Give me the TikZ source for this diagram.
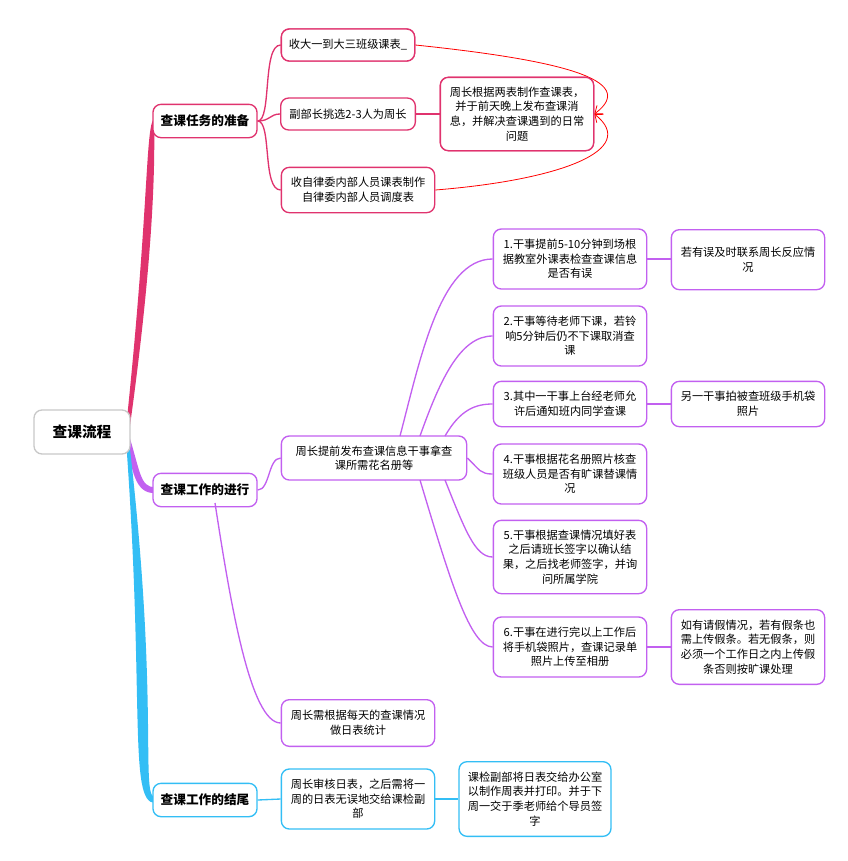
\documentclass[tikz,border=0pt]{standalone}
\usepackage{fontspec}
\setmainfont{Noto Sans CJK SC}
\usetikzlibrary{arrows.meta}
\definecolor{pk}{HTML}{E0336E}
\definecolor{pu}{HTML}{C260F0}
\definecolor{bl}{HTML}{33BEF5}
\definecolor{rt}{HTML}{C8C8C8}
\tikzset{
 box/.style={draw,rounded corners=6pt,line width=1pt,fill=white,align=center,font=\fontsize{8.4}{11}\selectfont,inner sep=2pt},
 main/.style={box,font=\fontsize{9.5}{12}\selectfont\bfseries},
 con/.style={line width=1pt},
 rel/.style={draw=red,line width=0.6pt,-{Straight Barb[length=5pt,width=8pt]}}
}
\begin{document}
\begin{tikzpicture}[x=0.75pt,y=-0.75pt]
\useasboundingbox (0,0) rectangle (848,861);
% connectors root
\fill[pk] (126,428) .. controls (150,200) and (145,121) .. (155,118) -- (155,124) .. controls (152,124) and (162,200) .. (128,440) -- cycle;
\fill[pu] (128,432) .. controls (140,470) and (140,488) .. (155,487) -- (155,493) .. controls (135,494) and (132,470) .. (126,440) -- cycle;
\fill[bl] (128,432) .. controls (160,700) and (140,797) .. (155,797) -- (155,803) .. controls (128,803) and (145,700) .. (126,440) -- cycle;
% nodes
\node[box,draw=rt,line width=1pt,font=\fontsize{11}{13}\selectfont\bfseries,minimum width=72pt,minimum height=33pt] (root) at (82,432) {查课流程};
\node[main,draw=pk,minimum width=78pt,minimum height=25pt] (A) at (205,121) {查课任务的准备};
\node[main,draw=pu,minimum width=78pt,minimum height=25pt] (B) at (205,490) {查课工作的进行};
\node[main,draw=bl,minimum width=78pt,minimum height=25pt] (C) at (205,800) {查课工作的结尾};

\node[box,draw=pk,minimum width=100pt,minimum height=24pt] (A1) at (348,45) {收大一到大三班级课表\_};
\node[box,draw=pk,minimum width=101pt,minimum height=24pt] (A2) at (348,114) {副部长挑选2-3人为周长};
\node[box,draw=pk,minimum width=115pt,minimum height=34pt] (A3) at (358,190) {收自律委内部人员课表制作\\自律委内部人员调度表};
\node[box,draw=pk,minimum width=115pt,minimum height=55pt] (A4) at (517,114) {周长根据两表制作查课表，\\并于前天晚上发布查课消\\息，并解决查课遇到的日常\\问题};

\node[box,draw=pu,minimum width=139pt,minimum height=33pt] (B1) at (374,458) {周长提前发布查课信息干事拿查\\课所需花名册等};
\node[box,draw=pu,minimum width=115pt,minimum height=45pt] (Ba) at (570,259) {1.干事提前5-10分钟到场根\\据教室外课表检查查课信息\\是否有误};
\node[box,draw=pu,minimum width=115pt,minimum height=45pt,anchor=north] (Ba1) at (748,229) {若有误及时联系周长反应情\\况};
\node[box,draw=pu,minimum width=115pt,minimum height=45pt] (Bb) at (570,336) {2.干事等待老师下课，若铃\\响5分钟后仍不下课取消查\\课};
\node[box,draw=pu,minimum width=115pt,minimum height=34pt] (Bc) at (570,404) {3.其中一干事上台经老师允\\许后通知班内同学查课};
\node[box,draw=pu,minimum width=115pt,minimum height=34pt] (Bc1) at (748,404) {另一干事拍被查班级手机袋\\照片};
\node[box,draw=pu,minimum width=115pt,minimum height=45pt] (Bd) at (570,474) {4.干事根据花名册照片核查\\班级人员是否有旷课替课情\\况};
\node[box,draw=pu,minimum width=115pt,minimum height=55pt] (Be) at (570,557) {5.干事根据查课情况填好表\\之后请班长签字以确认结\\果，之后找老师签字，并询\\问所属学院};
\node[box,draw=pu,minimum width=115pt,minimum height=45pt] (Bf) at (570,647) {6.干事在进行完以上工作后\\将手机袋照片，查课记录单\\照片上传至相册};
\node[box,draw=pu,minimum width=115pt,minimum height=56pt] (Bf1) at (748,647) {如有请假情况，若有假条也\\需上传假条。若无假条，则\\必须一个工作日之内上传假\\条否则按旷课处理};
\node[box,draw=pu,minimum width=115pt,minimum height=35pt] (B2) at (358,723) {周长需根据每天的查课情况\\做日表统计};

\node[box,draw=bl,minimum width=115pt,minimum height=45pt] (C1) at (358,799) {周长审核日表，之后需将一\\周的日表无误地交给课检副\\部};
\node[box,draw=bl,minimum width=114pt,minimum height=56pt] (C2) at (535,799) {课检副部将日表交给办公室\\以制作周表并打印。并于下\\周一交于季老师给个导员签\\字};

% branch connectors
\draw[con,pk] (A.east) .. controls (272,121) and (262,45) .. (A1.west);
\draw[con,pk] (A.east) .. controls (270,121) and (270,114) .. (A2.west);
\draw[con,pk] (A.east) .. controls (272,121) and (262,190) .. (A3.west);
\draw[con,pk] (A2.east) -- (A4.west);
\draw[rel] (A1.east) .. controls (560,60) and (640,80) .. (A4.east);
\draw[rel] (A3.east) .. controls (560,180) and (640,150) .. (A4.east);

\draw[con,pu] (B.east) .. controls (270,490) and (268,458) .. (B1.west);
\draw[con,pu] (215,503) .. controls (230,600) and (250,723) .. (B2.west);
\draw[con,pu] (400,436) .. controls (420,360) and (440,259) .. (Ba.west);
\draw[con,pu] (420,436) .. controls (440,380) and (460,336) .. (Bb.west);
\draw[con,pu] (445,436) .. controls (460,410) and (475,404) .. (Bc.west);
\draw[con,pu] (B1.east) .. controls (480,470) and (480,474) .. (Bd.west);
\draw[con,pu] (445,480) .. controls (465,530) and (475,557) .. (Be.west);
\draw[con,pu] (420,480) .. controls (450,580) and (470,647) .. (Bf.west);
\draw[con,pu] (Ba.east) -- (Ba1.west|-Ba.east);
\draw[con,pu] (Bc.east) -- (Bc1.west);
\draw[con,pu] (Bf.east) -- (Bf1.west);

\draw[con,bl] (C.east) -- (C1.west);
\draw[con,bl] (C1.east) -- (C2.west);
% redraw boxes on top of connectors
\node[box,draw=pk,minimum width=100pt,minimum height=24pt] at (348,45) {收大一到大三班级课表\_};
\node[box,draw=pk,minimum width=115pt,minimum height=55pt] at (517,114) {周长根据两表制作查课表，\\并于前天晚上发布查课消\\息，并解决查课遇到的日常\\问题};
\end{tikzpicture}
\end{document}
